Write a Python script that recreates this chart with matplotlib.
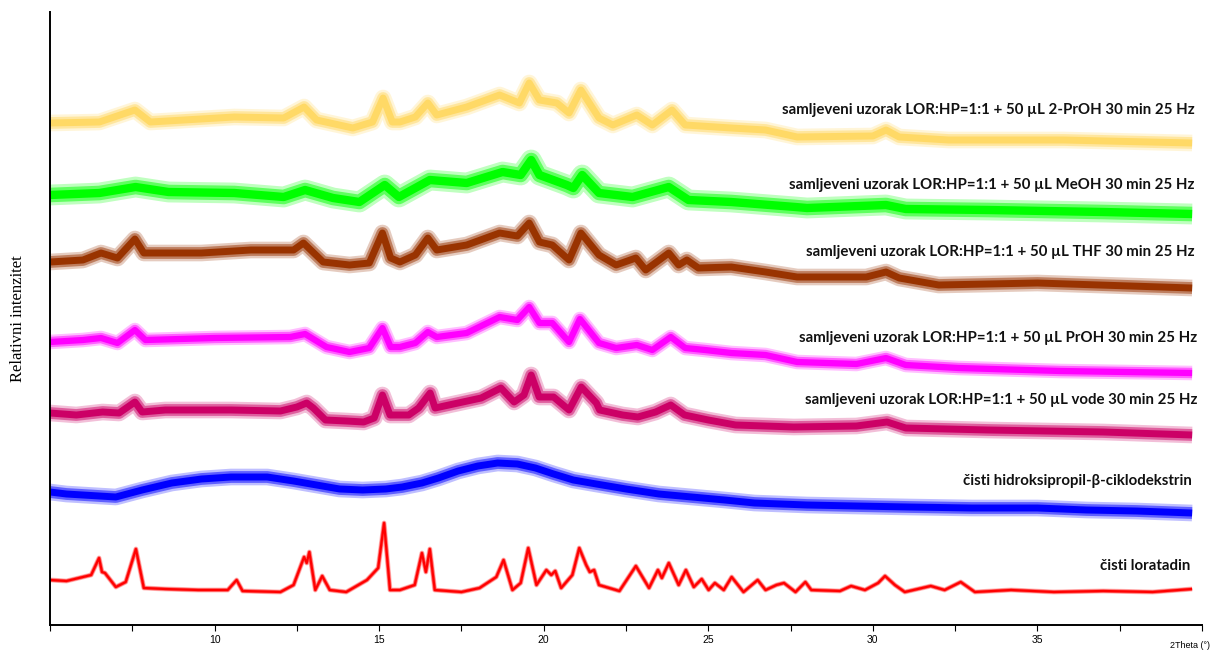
import numpy as np
import matplotlib
matplotlib.use("Agg")
import matplotlib.pyplot as plt
from matplotlib.ticker import MultipleLocator
import matplotlib.patheffects as pe

# 2theta / relative intensity points for each pattern (intensity relative to its own baseline)
loratadin_x = [5.0, 5.5, 6.25, 6.49, 6.58, 6.67, 7.0, 7.3, 7.61, 7.85, 8.5, 9.5, 10.4, 10.67, 10.85,
               12.0, 12.4, 12.72, 12.8, 12.88, 13.06, 13.27, 13.5, 14.0, 14.63, 14.97, 15.15, 15.33,
               15.63, 16.08, 16.3, 16.42, 16.54, 16.69, 17.5, 18.05, 18.56, 18.78, 19.05, 19.3, 19.53,
               19.78, 20.08, 20.23, 20.35, 20.53, 20.87, 21.08, 21.29, 21.4, 21.53, 21.68, 22.3, 22.8,
               23.2, 23.47, 23.59, 23.8, 24.1, 24.32, 24.56, 24.8, 25.01, 25.2, 25.47, 25.71, 26.07,
               26.5, 26.74, 27.07, 27.3, 27.65, 27.95, 28.13, 29.0, 29.34, 29.76, 30.16, 30.37, 30.67,
               30.97, 31.76, 32.18, 32.67, 33.1, 34.2, 35.5, 37.0, 38.5, 39.7]
loratadin_y = [0, -1, 5, 22, 8, 7, -7, -2, 31, -8, -9, -10, -10, 0, -11,
               -12, -5, 23, 17, 28, -10, 4, -10, -12, 0, 12, 57, -10,
               -10, -5, 27, 8, 31, -10, -12, -8, 3, 20, -10, -3, 32,
               -5, 10, 5, 9, -8, 5, 32, 15, 8, 10, -5, -11, 14,
               -8, 10, 2, 17, -5, 10, -7, 1, -10, -3, -10, 3, -12,
               0, -10, -5, -3, -12, -2, -10, -11, -6, -10, -3, 4, -5,
               -12, -6, -10, -2, -12, -10, -12, -11, -12, -9]

hpbcd_x = [5.0, 5.5, 6.5, 7.0, 7.8, 8.7, 9.6, 10.5, 11.6, 12.4, 13.1, 13.8, 14.5, 15.2, 15.7, 16.3,
           16.8, 17.4, 18.0, 18.6, 19.2, 19.75, 20.3, 20.9, 21.6, 22.5, 23.5, 24.5, 25.5, 26.4,
           28.0, 29.5, 31.1, 33.0, 35.0, 36.5, 38.0, 39.7]
hpbcd_y = [0, -2, -4, -5, 2, 9, 13, 15, 15, 11, 7, 3, 2, 3, 5, 9,
           14, 21, 26, 29, 28, 24, 18, 12, 8, 3, -2, -5, -8, -11,
           -13, -14, -15, -16, -16, -18, -19, -21]

voda_x = [5.0, 5.8, 6.6, 7.1, 7.58, 7.8, 8.5, 10.5, 12.0, 12.5, 12.8, 13.0, 13.37, 14.0, 14.53,
          14.85, 15.1, 15.33, 15.9, 16.2, 16.55, 16.7, 17.4, 18.1, 18.7, 19.1, 19.4, 19.62, 19.86,
          20.3, 20.77, 21.14, 21.6, 21.7, 22.4, 22.86, 23.4, 23.86, 24.28, 25.0, 25.83, 27.6,
          29.5, 30.43, 31.0, 33.5, 37.0, 39.7]
voda_y = [0, -2, 1, 0, 11, 1, 3, 3, 2, 6, 10, 5, -7, -8, -9,
          -5, 18, -2, -2, 5, 20, 5, 10, 15, 25, 11, 18, 38, 16,
          16, 3, 26, 10, 3, -2, -4, 1, 8, -2, -7, -12, -14,
          -13, -9, -15, -17, -19, -22]

proh_x = [5.0, 6.0, 6.55, 7.05, 7.58, 7.9, 10.0, 12.3, 12.75, 13.4, 14.1, 14.7, 15.1, 15.35, 15.63,
          16.1, 16.48, 16.75, 17.66, 18.66, 19.2, 19.56, 19.87, 20.26, 20.77, 21.1, 21.68, 22.2,
          22.83, 23.3, 23.86, 24.3, 24.9, 25.7, 26.74, 27.7, 29.5, 30.4, 31.0, 32.6, 35.7, 39.7]
proh_y = [0, 2, 4, -1, 12, 2, 4, 5, 8, -5, -10, -6, 14, -5, -5,
          -1, 10, 5, 9, 25, 22, 35, 19, 19, 0, 23, -1, -6,
          -3, -8, 5, -6, -8, -11, -13, -20, -22, -16, -23, -26, -29, -31]

thf_x = [5.0, 6.0, 6.55, 7.05, 7.58, 7.85, 9.6, 11.1, 12.4, 12.7, 13.3, 14.1, 14.7, 15.1, 15.35,
         15.63, 16.1, 16.48, 16.75, 17.66, 18.66, 19.2, 19.56, 19.87, 20.26, 20.77, 21.13, 21.68,
         22.2, 22.8, 23.1, 23.8, 24.1, 24.35, 24.7, 25.7, 26.74, 27.7, 29.8, 30.4, 30.8, 32.0,
         35.0, 39.7]
thf_y = [0, 2, 9, 4, 23, 9, 9, 12, 12, 19, 0, -3, -1, 29, 4,
         0, 7, 24, 12, 17, 29, 26, 39, 20, 17, 2, 29, 7,
         -3, 4, -8, 9, -3, 2, -6, -5, -10, -15, -15, -10, -16, -23,
         -21, -26]

meoh_x = [5.0, 6.5, 7.6, 8.6, 10.6, 12.1, 12.75, 13.6, 14.4, 15.17, 15.6, 16.54, 17.66, 18.75,
          19.3, 19.62, 19.87, 20.7, 20.9, 21.17, 21.68, 22.7, 23.8, 24.4, 25.7, 27.65, 28.0,
          30.4, 31.0, 33.5, 37.0, 39.7]
meoh_y = [0, 2, 8, 3, 2, -2, 5, -3, -7, 10, -2, 15, 12, 23,
          20, 35, 20, 10, 7, 20, 2, -2, 8, -5, -7, -12, -13,
          -10, -14, -15, -17, -19]

iproh_x = [5.0, 6.5, 7.58, 8.05, 10.6, 12.1, 12.72, 13.1, 14.2, 14.8, 15.12, 15.4, 15.63, 16.1,
           16.48, 16.75, 17.66, 18.66, 19.26, 19.56, 19.87, 20.4, 20.77, 21.13, 21.68, 22.1,
           22.83, 23.3, 23.9, 24.3, 25.7, 26.74, 27.7, 30.0, 30.4, 30.8, 32.3, 35.8, 39.7]
iproh_y = [0, 1, 13, 1, 6, 5, 16, 3, -5, 1, 25, 1, 1, 6,
           20, 8, 16, 28, 20, 40, 23, 20, 10, 33, 5, -2,
           8, -2, 13, -2, -5, -7, -14, -13, -7, -14, -17, -17, -20]

# stacking offsets, bottom to top
offsets = [73, 161, 240, 311, 391, 458, 530]

labels = [
    "čisti loratadin",
    "čisti hidroksipropil-β-ciklodekstrin",
    "samljeveni uzorak LOR:HP=1:1 + 50 µL vode 30 min 25 Hz",
    "samljeveni uzorak LOR:HP=1:1 + 50 µL PrOH 30 min 25 Hz",
    "samljeveni uzorak LOR:HP=1:1 + 50 µL THF 30 min 25 Hz",
    "samljeveni uzorak LOR:HP=1:1 + 50 µL MeOH 30 min 25 Hz",
    "samljeveni uzorak LOR:HP=1:1 + 50 µL 2-PrOH 30 min 25 Hz",
]
label_y = [87, 172, 253, 315, 401, 468, 543]
label_right = [39.65, 39.68, 39.86, 39.86, 39.78, 39.78, 39.78]
colors = ["#ff0000", "#0000ff", "#cc0066", "#ff00ff", "#993300", "#00ff00", "#ffd966"]
# width of the solid core and of the scatter around it (points)
core_w = [1.6, 5.0, 5.0, 4.5, 5.0, 6.0, 5.0]
fuzz_w = [3.6, 12.0, 12.0, 10.5, 12.0, 15.0, 12.0]

series = [(loratadin_x, loratadin_y), (hpbcd_x, hpbcd_y), (voda_x, voda_y), (proh_x, proh_y),
          (thf_x, thf_y), (meoh_x, meoh_y), (iproh_x, iproh_y)]

fig = plt.figure(figsize=(12.12, 6.53), dpi=100)
ax = fig.add_axes([50 / 1212, 28 / 653, 1152 / 1212, 613 / 653])

for (x, y), off, c, cw, fw in zip(series, offsets, colors, core_w, fuzz_w):
    y = np.array(y) + off
    fx = [
        pe.Stroke(linewidth=fw, foreground=c, alpha=0.25),
        pe.Stroke(linewidth=(fw + cw) / 2, foreground=c, alpha=0.5),
        pe.Normal(),
    ]
    ax.plot(x, y, color=c, lw=cw, solid_joinstyle="round", solid_capstyle="butt",
            path_effects=fx)

for txt, ly, lx in zip(labels, label_y, label_right):
    ax.text(lx, ly, txt, ha="right", va="center", fontsize=10.8,
            fontfamily="Lato", fontweight="bold", color="#111111")

ax.set_xlim(5, 40)
ax.set_ylim(28, 641)
ax.xaxis.set_minor_locator(MultipleLocator(2.5))
ax.set_xticks([10, 15, 20, 25, 30, 35])
ax.set_xticklabels(["10", "15", "20", "25", "30", "35"])
ax.tick_params(axis="x", which="both", direction="out", length=4, width=0.8, labelsize=7.5, pad=3)
for t in ax.get_xticklabels():
    t.set_fontfamily("Liberation Sans")
ax.set_yticks([])
for s in ["top", "right"]:
    ax.spines[s].set_visible(False)
ax.spines["left"].set_linewidth(1.4)
ax.spines["bottom"].set_linewidth(1.4)

ax.set_ylabel("Relativni intenzitet", fontfamily="Liberation Serif", fontsize=12, labelpad=17)
fig.text(1210 / 1212, 8 / 653, "2Theta (°)", ha="right", va="center",
         fontfamily="Liberation Sans", fontsize=6.5)

fig.savefig("out.png", dpi=100)
